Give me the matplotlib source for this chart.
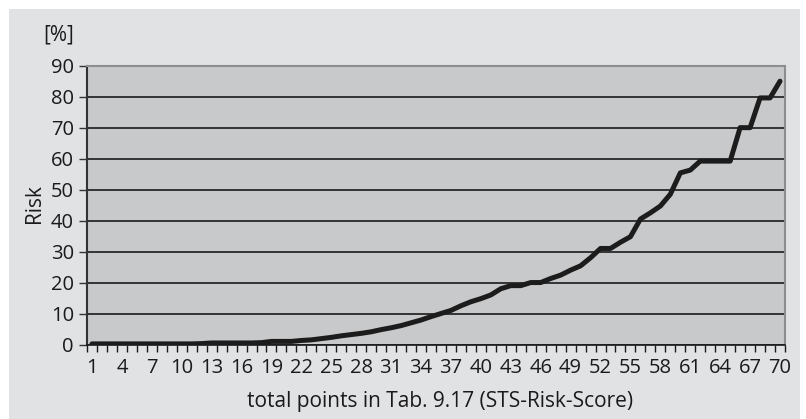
import numpy as np
import matplotlib.pyplot as plt
from matplotlib.patches import Rectangle
from matplotlib.ticker import FixedLocator, MultipleLocator

plt.rcParams['font.family'] = ['Open Sans', 'DejaVu Sans']

# STS risk score: total points 1..70 and predicted risk in percent
points = list(range(1, 71))
risk = [0.2, 0.2, 0.2, 0.2, 0.2, 0.2, 0.2, 0.2, 0.2, 0.2,
        0.2, 0.3, 0.5, 0.5, 0.5, 0.5, 0.5, 0.6, 1.0, 1.0,
        1.0, 1.3, 1.5, 1.9, 2.3, 2.8, 3.2, 3.6, 4.1, 4.8,
        5.4, 6.1, 7.0, 7.9, 9.0, 10.0, 11.0, 12.5, 13.8, 14.8,
        16.0, 18.0, 19.0, 19.0, 20.0, 20.0, 21.3, 22.4, 24.0, 25.4,
        28.0, 31.0, 31.0, 33.0, 34.8, 40.5, 42.5, 44.7, 48.5, 55.4,
        56.3, 59.2, 59.2, 59.2, 59.2, 70.0, 70.0, 79.6, 79.6, 85.0]
tick_labels = [str(p) for p in points[::3]]

W, H = 806, 419
fig = plt.figure(figsize=(W / 100, H / 100), dpi=100)
fig.patch.set_facecolor('white')
# light grey panel behind the whole chart
fig.add_artist(Rectangle((9 / W, 0), 791 / W, 1 - 9 / H, transform=fig.transFigure,
                         facecolor='#e1e2e4', edgecolor='none', zorder=-5))

ax = fig.add_axes([87 / W, 1 - 344.5 / H, 698 / W, (344.5 - 65.7) / H])
ax.set_facecolor('#c8c9cb')

ax.plot(points, risk, color='#1c1c1c', lw=3.6, solid_capstyle='round',
        solid_joinstyle='round', zorder=3)

ax.set_xlim(0.5, 70.5)
ax.set_ylim(0, 90)
ax.yaxis.set_major_locator(MultipleLocator(10))
ax.grid(axis='y', color='#1a1a1a', lw=1.2)
ax.set_axisbelow(True)

ax.xaxis.set_major_locator(FixedLocator(points[::3]))
ax.set_xticklabels(tick_labels)
ax.xaxis.set_minor_locator(FixedLocator(np.arange(0.5, 71, 1)))
ax.tick_params(axis='x', which='major', length=0, pad=10, labelsize=14.5, colors='#1a1a1a')
ax.tick_params(axis='x', which='minor', length=5, width=1, color='#1a1a1a', direction='out')
ax.tick_params(axis='y', length=6, width=1, color='#333333', labelsize=14.5,
               pad=3.5, colors='#1a1a1a')

for side in ('top', 'right'):
    ax.spines[side].set_color('#8e8e8e')
    ax.spines[side].set_linewidth(1.5)
ax.spines['left'].set_color('#333333')
ax.spines['left'].set_linewidth(1.5)
ax.spines['bottom'].set_color('#1a1a1a')
ax.spines['bottom'].set_linewidth(1.2)

fig.text(440 / W, 1 - 406.5 / H, 'total points in Tab. 9.17 (STS-Risk-Score)',
         ha='center', va='baseline', fontsize=15, color='#1a1a1a')
fig.text(35 / W, 1 - 204 / H, 'Risk', rotation=90, ha='center', va='center',
         fontsize=15, color='#1a1a1a')
fig.text(59 / W, 1 - 34.5 / H, '[%]', ha='center', va='center',
         fontsize=15, color='#1a1a1a')

fig.savefig('out.png', dpi=100, facecolor=fig.get_facecolor())
